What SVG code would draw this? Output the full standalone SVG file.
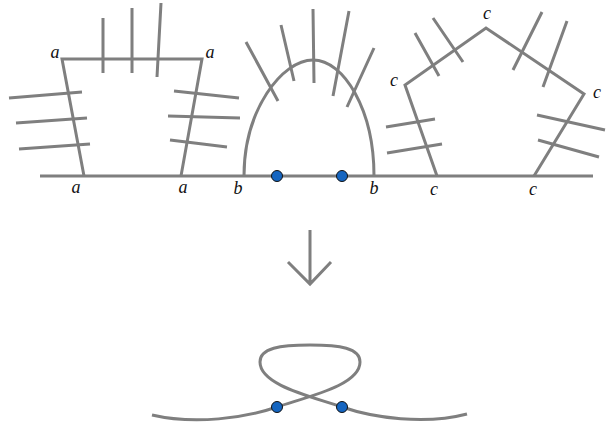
<svg xmlns="http://www.w3.org/2000/svg" width="606" height="430" viewBox="0 0 606 430">
<style>
.ln{fill:none;stroke:#7f7f7f;stroke-width:3;stroke-linecap:butt;stroke-linejoin:miter}
.lb{font-family:"Liberation Serif","DejaVu Serif",serif;font-style:italic;font-size:18px;fill:#111;text-anchor:middle}
.dot{fill:#1565c0;stroke:#111;stroke-width:1}
</style>
<rect width="606" height="430" fill="#fff"/>
<g id="baseline"><path class="ln" d="M40,176 H593"/></g>
<g id="square">
<path class="ln" d="M84,176 L62,59 H202 L181,176"/>
<path class="ln" d="M103,18 V73 M132,8 V73 M161,3 L157,77 M9,98 L82,92 M16,123 L87,118 M19,149 L90,144 M174,91 L239,98 M168,116 L240,118 M170,140 L227,147"/>
<text class="lb" x="55" y="58">a</text><text class="lb" x="210" y="58">a</text>
<text class="lb" x="76" y="193">a</text><text class="lb" x="183" y="193">a</text>
</g>
<g id="arch">
<path class="ln" d="M244,176 C244,110 282,60 313,60 C344,60 374,110 374,176"/>
<path class="ln" d="M246,42 L278,101 M281,25 L294,81 M313,9 L314,83 M349,11 L333,96 M374,48 L347,107"/>
<circle class="dot" cx="277" cy="176" r="5.5"/><circle class="dot" cx="342" cy="176" r="5.5"/>
<text class="lb" x="238" y="194">b</text><text class="lb" x="374" y="194">b</text>
</g>
<g id="pentagon">
<path class="ln" d="M437,176 L405,85 L486,28 L584,94 L534,176"/>
<path class="ln" d="M415,33 L439,76 M433,18 L463,62 M542,12 L513,70 M567,21 L543,87 M386,127 L435,119 M387,153 L442,144 M537,115 L605,130 M538,140 L599,157"/>
<text class="lb" x="487" y="19">c</text><text class="lb" x="394" y="86">c</text><text class="lb" x="597" y="98">c</text>
<text class="lb" x="434" y="195">c</text><text class="lb" x="533" y="195">c</text>
</g>
<g id="connectors">
<path class="ln" d="M310,230 V284 M288,262 L310,284 L331,262"/>
</g>
<g id="loop">
<path class="ln" d="M152,415 C195,425 245,418 277,407 C310,396 360,385 360,362 C360,348 340,345 310,345 C280,345 260,348 260,362 C260,385 310,396 342,407 C374,418 425,425 467,414"/>
<circle class="dot" cx="277" cy="407" r="5.5"/><circle class="dot" cx="342" cy="407" r="5.5"/>
</g>
</svg>
